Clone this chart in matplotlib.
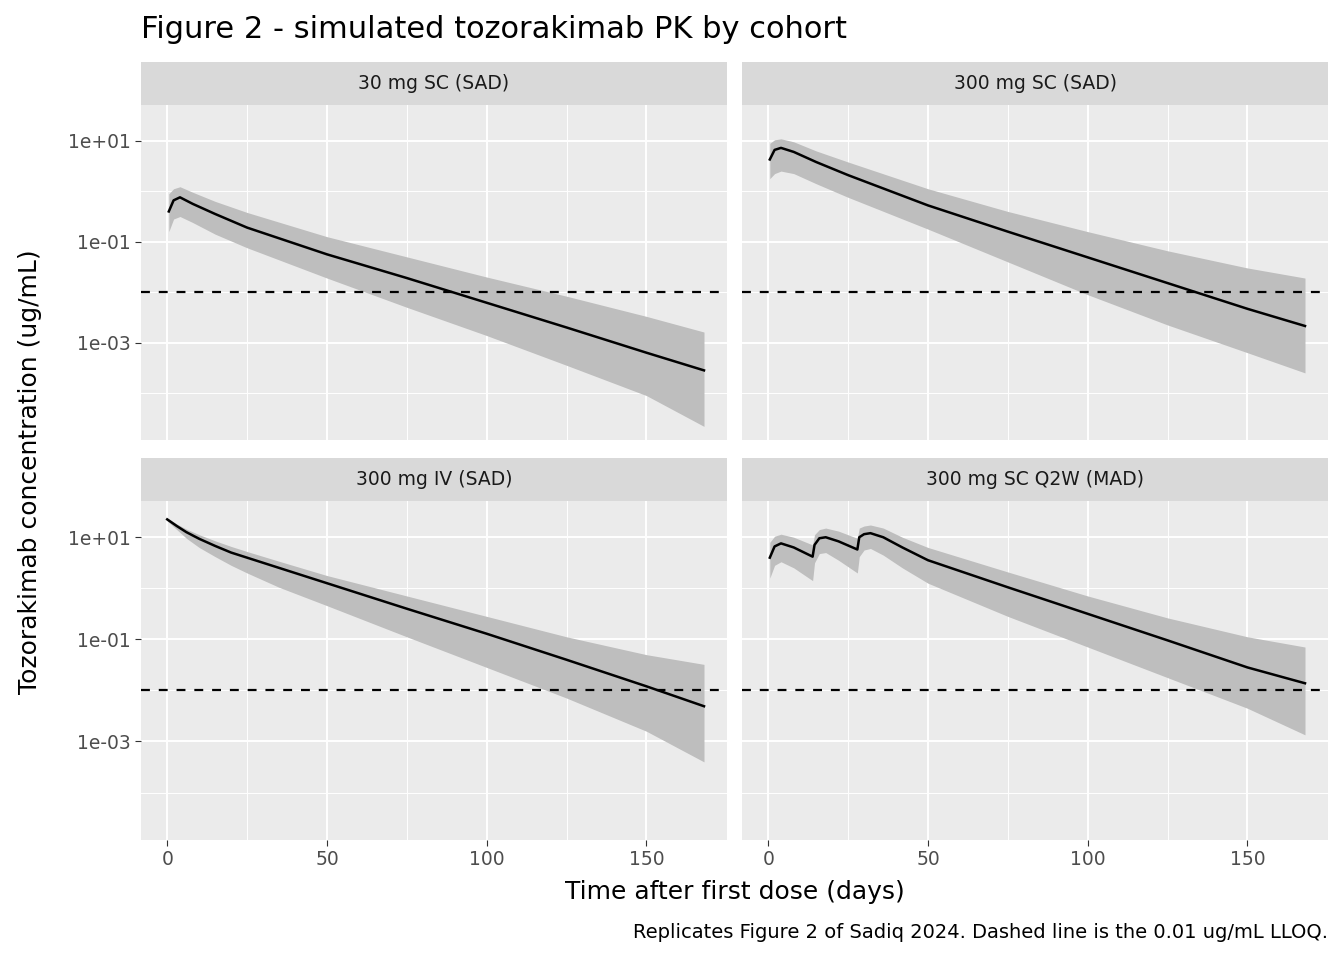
import numpy as np
import matplotlib
matplotlib.use("Agg")
import matplotlib.pyplot as plt
from matplotlib.ticker import FixedLocator, NullFormatter

cohorts = ["30 mg SC (SAD)", "300 mg SC (SAD)", "300 mg IV (SAD)", "300 mg SC Q2W (MAD)"]
# times (days) and log10 concentration (ug/mL): median, upper, lower
t_sc = [0.5, 2, 4, 8, 15, 25, 50, 75, 100, 125, 150, 168]
sc30_med = [-0.40, -0.18, -0.12, -0.25, -0.45, -0.72, -1.25, -1.72, -2.21, -2.70, -3.20, -3.55]
sc30_up  = [-0.05, 0.05, 0.09, -0.02, -0.20, -0.42, -0.90, -1.30, -1.70, -2.08, -2.48, -2.79]
sc30_lo  = [-0.80, -0.55, -0.50, -0.62, -0.85, -1.12, -1.72, -2.30, -2.86, -3.45, -4.05, -4.66]
sc300_med = [0.63, 0.82, 0.86, 0.78, 0.58, 0.32, -0.28, -0.80, -1.31, -1.82, -2.33, -2.67]
sc300_up  = [0.95, 1.02, 1.04, 0.98, 0.80, 0.58, 0.05, -0.40, -0.80, -1.18, -1.52, -1.72]
sc300_lo  = [0.25, 0.35, 0.40, 0.35, 0.15, -0.12, -0.75, -1.40, -2.05, -2.65, -3.20, -3.60]
t_iv = [0, 3, 6, 10, 15, 20, 25, 35, 50, 75, 100, 125, 150, 168]
iv_med = [1.35, 1.22, 1.10, 0.97, 0.83, 0.70, 0.60, 0.40, 0.10, -0.40, -0.89, -1.40, -1.92, -2.31]
iv_up  = [1.38, 1.26, 1.16, 1.05, 0.93, 0.82, 0.72, 0.53, 0.25, -0.15, -0.55, -0.95, -1.30, -1.49]
iv_lo  = [1.32, 1.15, 0.98, 0.80, 0.62, 0.45, 0.30, 0.02, -0.34, -0.95, -1.55, -2.15, -2.80, -3.40]
t_mad = [0.5, 2, 4, 8, 13.9, 14.5, 16, 18, 22, 27.9, 28.5, 30, 32, 36, 42, 50, 75, 100, 125, 150, 168]
mad_med = [0.60, 0.82, 0.88, 0.80, 0.62, 0.85, 0.98, 1.00, 0.92, 0.76, 1.00, 1.06, 1.08, 1.00, 0.80, 0.55, 0.02, -0.50, -1.02, -1.55, -1.86]
mad_up  = [0.90, 1.02, 1.06, 1.00, 0.85, 1.05, 1.15, 1.18, 1.12, 0.98, 1.18, 1.22, 1.24, 1.18, 1.00, 0.80, 0.32, -0.15, -0.58, -0.95, -1.15]
mad_lo  = [0.20, 0.45, 0.52, 0.40, 0.15, 0.50, 0.68, 0.70, 0.55, 0.30, 0.62, 0.75, 0.78, 0.65, 0.40, 0.10, -0.55, -1.15, -1.75, -2.35, -2.87]

data = [(t_sc, sc30_med, sc30_up, sc30_lo), (t_sc, sc300_med, sc300_up, sc300_lo),
        (t_iv, iv_med, iv_up, iv_lo), (t_mad, mad_med, mad_up, mad_lo)]
lloq = 0.01

fig = plt.figure(figsize=(13.44, 9.6), dpi=100)
W, H = 1344, 960
boxes = [(141, 105, 727, 440), (742, 105, 1328, 440), (141, 501, 727, 840), (742, 501, 1328, 840)]
for i, (name, (t, m, u, l), (x0, y0, x1, y1)) in enumerate(zip(cohorts, data, boxes)):
    ax = fig.add_axes([x0 / W, 1 - y1 / H, (x1 - x0) / W, (y1 - y0) / H])
    ax.set_facecolor("#EBEBEB")
    ax.set_yscale("log")
    ax.set_ylim(10 ** -4.93, 10 ** 1.71)
    ax.set_xlim(-8.2, 175.2)
    ax.yaxis.set_major_locator(FixedLocator([1e1, 1e-1, 1e-3]))
    ax.yaxis.set_minor_locator(FixedLocator([1e0, 1e-2, 1e-4]))
    ax.yaxis.set_minor_formatter(NullFormatter())
    ax.xaxis.set_major_locator(FixedLocator([0, 50, 100, 150]))
    ax.xaxis.set_minor_locator(FixedLocator([25, 75, 125]))
    ax.grid(True, which="major", color="white", lw=1.4)
    ax.grid(True, which="minor", color="white", lw=0.7)
    ax.set_axisbelow(True)
    for s in ax.spines.values():
        s.set_visible(False)
    ax.tick_params(which="both", colors="#333333", length=4, width=0.8, labelsize=13.5, labelcolor="#4D4D4D")
    ax.tick_params(which="minor", length=0)
    if i % 2 == 0:
        ax.set_yticklabels(["1e+01", "1e-01", "1e-03"])
    else:
        ax.set_yticklabels([])
        ax.tick_params(axis="y", which="major", length=0)
    if i < 2:
        ax.set_xticklabels([])
        ax.tick_params(axis="x", which="major", length=0)
    ta = np.array(t)
    ax.fill_between(ta, 10 ** np.array(l), 10 ** np.array(u), color="#BEBEBE", lw=0)
    ax.plot(ta, 10 ** np.array(m), color="black", lw=1.8)
    ax.axhline(lloq, color="black", ls=(0, (4, 4)), lw=1.6)
    sax = fig.add_axes([x0 / W, 1 - y0 / H, (x1 - x0) / W, 43 / H])
    sax.set_facecolor("#D9D9D9")
    sax.set_xticks([]); sax.set_yticks([])
    for s in sax.spines.values():
        s.set_visible(False)
    sax.text(0.5, 0.5, name, ha="center", va="center", fontsize=13.5, color="#1A1A1A", transform=sax.transAxes)

fig.text(141 / W, 1 - 30 / H, "Figure 2 - simulated tozorakimab PK by cohort", fontsize=22, va="center", ha="left")
fig.text((141 + 1328) / 2 / W, 1 - 892 / H, "Time after first dose (days)", fontsize=18, ha="center", va="center")
fig.text(30 / W, 1 - 472 / H, "Tozorakimab concentration (ug/mL)", fontsize=18, ha="center", va="center", rotation=90)
fig.text(1328 / W, 1 - 932 / H, "Replicates Figure 2 of Sadiq 2024. Dashed line is the 0.01 ug/mL LLOQ.", fontsize=14, ha="right", va="center")
fig.savefig("out.png", dpi=100)
